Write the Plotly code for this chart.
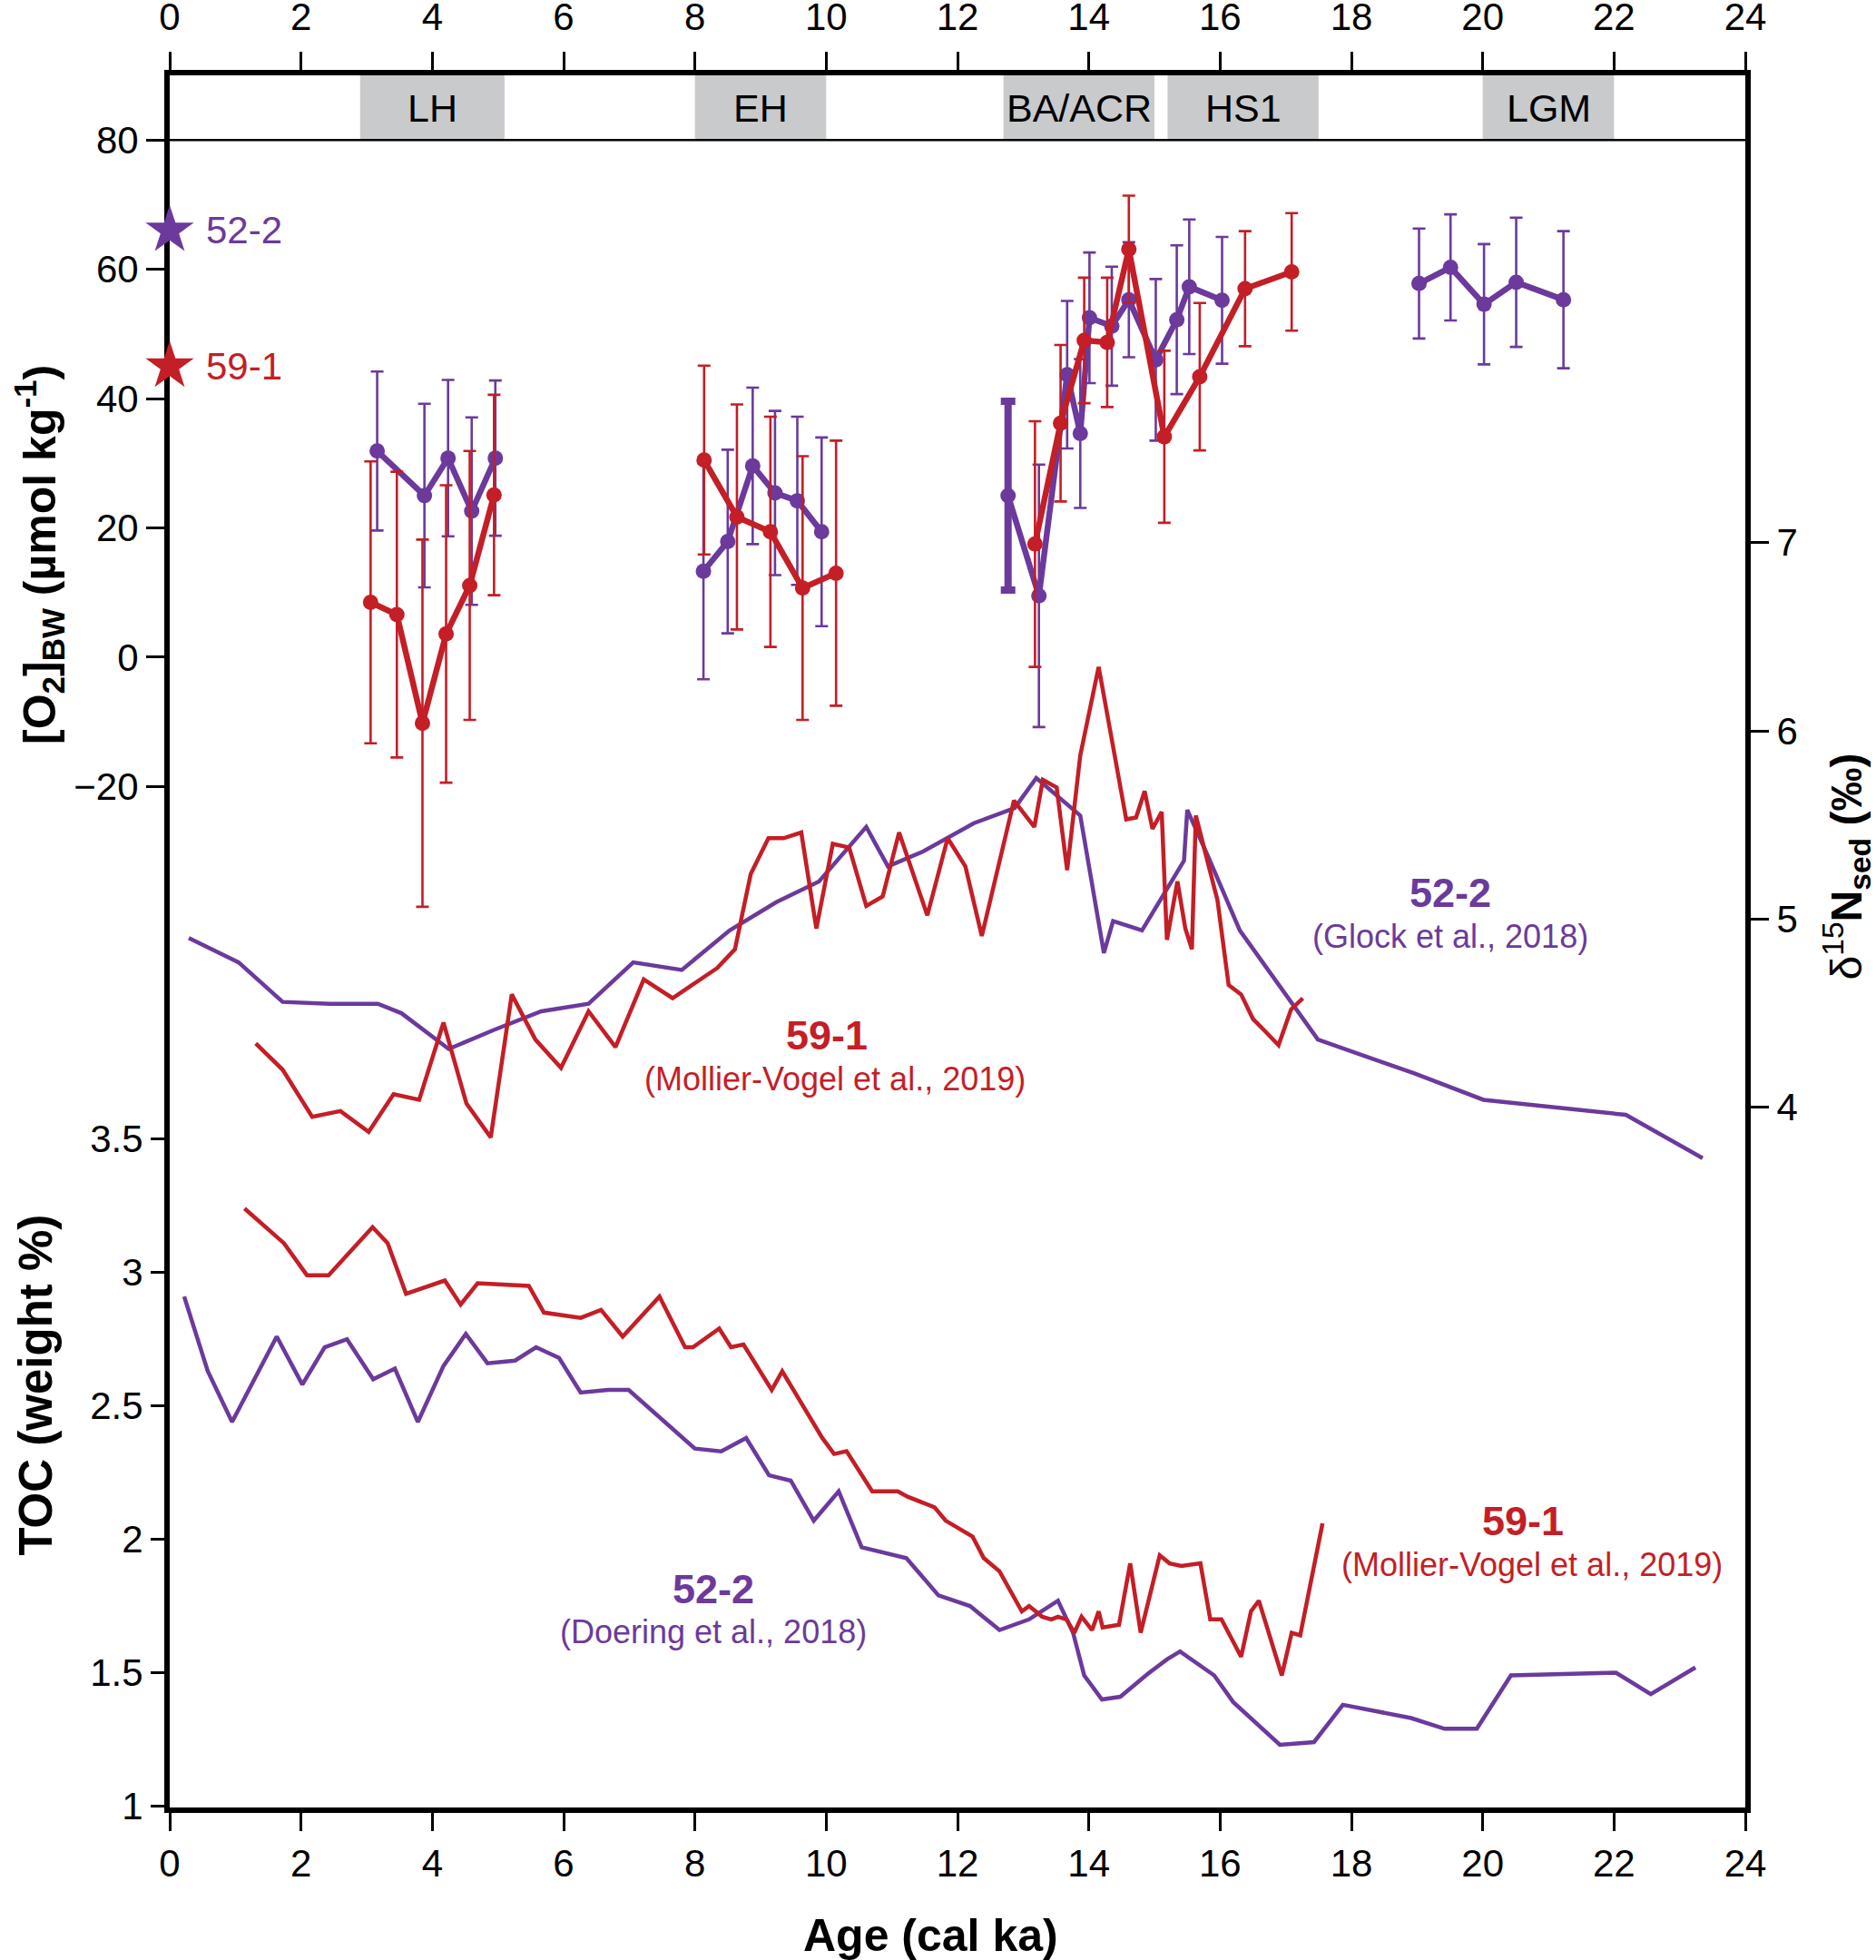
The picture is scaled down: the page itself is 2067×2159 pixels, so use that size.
import plotly.graph_objects as go

purple = "#6b3a9c"
red = "#c41e26"
band_gray = "#c9cacc"
font_family = "Liberation Sans, Arial, sans-serif"

# --- bottom-water O2 reconstructions (None breaks the line between intervals)
o2_522_age = [3.16, 3.88, 4.24, 4.60, 4.96, None,
              8.13, 8.50, 8.88, 9.22, 9.56, 9.93, None,
              12.77, 13.24, 13.67, 13.87, 14.01, 14.35, 14.61, 15.02, 15.34, 15.53, 16.03, None,
              19.03, 19.51, 20.02, 20.51, 21.23]
o2_522 = [31.9, 25.0, 30.8, 22.6, 30.8, None,
          13.3, 17.9, 29.6, 25.4, 24.2, 19.4, None,
          25.0, 9.5, 43.7, 34.6, 52.5, 51.2, 55.3, 46.0, 52.2, 57.3, 55.2, None,
          57.8, 60.3, 54.6, 58.0, 55.3]
o2_522_err = [12.3, 14.2, 12.1, 14.5, 12.0, None,
              16.7, 14.2, 12.1, 12.7, 13.0, 14.6, None,
              14.6, 20.3, 11.4, 11.5, 10.1, 9.2, 8.9, 12.5, 11.5, 10.4, 9.8, None,
              8.5, 8.2, 9.3, 10.0, 10.6]

o2_591_age = [3.06, 3.46, 3.85, 4.21, 4.57, 4.94, None,
              8.14, 8.64, 9.15, 9.64, 10.15, None,
              13.18, 13.57, 13.93, 14.28, 14.61, 15.15, 15.69, 16.38, 17.09]
o2_591 = [8.5, 6.6, -10.2, 3.6, 11.1, 25.1, None,
          30.5, 21.7, 19.4, 10.7, 13.0, None,
          17.5, 36.2, 49.0, 48.7, 63.1, 34.1, 43.4, 57.0, 59.6]
o2_591_err = [21.8, 22.1, 28.4, 23.0, 20.8, 15.5, None,
              14.6, 17.4, 17.8, 20.4, 20.5, None,
              19.0, 12.1, 9.7, 10.0, 8.3, 13.3, 11.4, 8.9, 9.1]

# modern bottom-water O2 at the core sites
modern_o2_522 = 66
modern_o2_591 = 45

# --- d15N sediment
d15n_522_age = [0.29, 1.05, 1.72, 2.44, 3.17, 3.53, 4.25, 4.93, 5.66, 6.38, 7.06, 7.80,
                8.53, 9.24, 9.89, 10.61, 10.94, 11.48, 12.25, 12.87, 13.20, 13.87, 14.23,
                14.37, 14.81, 15.45, 15.50, 15.82, 16.30, 17.49, 18.96, 20.01, 22.18, 23.35]
d15n_522 = [4.90, 4.77, 4.56, 4.55, 4.55, 4.50, 4.31, 4.41, 4.51, 4.55, 4.77, 4.73,
            4.94, 5.09, 5.20, 5.49, 5.28, 5.36, 5.51, 5.59, 5.75, 5.55, 4.82,
            4.99, 4.94, 5.31, 5.58, 5.33, 4.94, 4.36, 4.18, 4.04, 3.96, 3.73]

d15n_591_age = [1.31, 1.72, 2.17, 2.60, 3.03, 3.41, 3.80, 4.17, 4.52, 4.89, 5.21, 5.57,
                5.96, 6.38, 6.79, 7.22, 7.66, 8.07, 8.34, 8.61, 8.85, 9.12, 9.35, 9.62,
                9.85, 10.10, 10.35, 10.61, 10.86, 11.11, 11.54, 11.85, 12.12, 12.37, 12.86,
                13.17, 13.30, 13.51, 13.67, 13.87, 14.15, 14.57, 14.72, 14.85, 14.97, 15.11,
                15.19, 15.35, 15.47, 15.57, 15.63, 15.96, 16.13, 16.32, 16.50, 16.67, 16.89,
                17.08, 17.26]
d15n_591 = [4.34, 4.20, 3.95, 3.98, 3.87, 4.07, 4.04, 4.45, 4.02, 3.84, 4.60, 4.36,
            4.21, 4.51, 4.32, 4.68, 4.58, 4.68, 4.74, 4.84, 5.24, 5.43, 5.43, 5.46,
            4.95, 5.40, 5.38, 5.07, 5.12, 5.46, 5.02, 5.43, 5.28, 4.91, 5.63,
            5.49, 5.74, 5.70, 5.26, 5.87, 6.34, 5.53, 5.54, 5.68, 5.48, 5.57,
            4.89, 5.20, 4.95, 4.84, 5.55, 5.10, 4.65, 4.60, 4.47, 4.41, 4.33,
            4.52, 4.58]

# --- TOC
toc_522_age = [0.22, 0.58, 0.95, 1.63, 2.02, 2.36, 2.70, 3.10, 3.43, 3.78, 4.17, 4.51,
               4.84, 5.26, 5.58, 5.93, 6.26, 6.68, 6.99, 7.74, 8.00, 8.40, 8.78, 9.13,
               9.46, 9.81, 10.19, 10.54, 10.85, 11.22, 11.71, 12.19, 12.64, 13.09, 13.53,
               13.76, 13.93, 14.20, 14.48, 14.92, 15.19, 15.39, 15.91, 16.20, 16.91, 17.43,
               17.87, 18.91, 19.42, 19.91, 20.43, 22.03, 22.56, 23.24]
toc_522 = [2.91, 2.63, 2.44, 2.76, 2.58, 2.72, 2.75, 2.60, 2.64, 2.44, 2.65, 2.77,
           2.66, 2.67, 2.72, 2.68, 2.55, 2.56, 2.56, 2.40, 2.34, 2.33, 2.38, 2.24,
           2.22, 2.07, 2.18, 1.97, 1.95, 1.93, 1.79, 1.75, 1.66, 1.70, 1.77,
           1.65, 1.49, 1.40, 1.41, 1.50, 1.55, 1.58, 1.49, 1.39, 1.23, 1.24,
           1.38, 1.33, 1.29, 1.29, 1.49, 1.50, 1.42, 1.52]

toc_591_age = [1.14, 1.74, 2.09, 2.42, 3.09, 3.32, 3.60, 4.19, 4.43, 4.69, 5.47, 5.70,
               6.26, 6.57, 6.90, 7.46, 7.85, 7.97, 8.37, 8.55, 8.74, 9.17, 9.33, 9.55,
               9.94, 10.12, 10.31, 10.70, 11.09, 11.24, 11.65, 11.82, 12.23, 12.40, 12.64,
               12.98, 13.09, 13.29, 13.43, 13.53, 13.66, 13.78, 13.89, 14.05, 14.15, 14.21,
               14.46, 14.63, 14.79, 15.08, 15.23, 15.41, 15.70, 15.85, 16.02, 16.32, 16.47,
               16.59, 16.94, 17.09, 17.22, 17.56]
toc_591 = [3.24, 3.11, 2.99, 2.99, 3.17, 3.11, 2.92, 2.97, 2.88, 2.96, 2.95, 2.85,
           2.83, 2.86, 2.76, 2.91, 2.72, 2.72, 2.79, 2.72, 2.73, 2.56, 2.63, 2.54,
           2.38, 2.32, 2.33, 2.18, 2.18, 2.16, 2.12, 2.07, 2.01, 1.93, 1.88,
           1.73, 1.75, 1.71, 1.70, 1.71, 1.70, 1.65, 1.71, 1.66, 1.73, 1.67,
           1.68, 1.91, 1.65, 1.94, 1.91, 1.90, 1.91, 1.70, 1.70, 1.56, 1.73,
           1.77, 1.49, 1.65, 1.64, 2.06]

# climate intervals shown in the top band
period_names = ["LH", "EH", "BA/ACR", "HS1", "LGM"]
period_start = [2.9, 8.0, 12.7, 15.2, 20.0]
period_end = [5.1, 10.0, 15.0, 17.5, 22.0]

age_ticks = list(range(0, 25, 2))
o2_ticks = [-20, 0, 20, 40, 60, 80]
d15n_ticks = [4, 5, 6, 7]
toc_ticks = [1, 1.5, 2, 2.5, 3, 3.5]

O2_RANGE = [-177.9, 90.0]
D15N_RANGE = [0.28, 9.483]
TOC_RANGE = [0.995, 7.487]


def txt_font(size, color="black"):
    return dict(family=font_family, size=size, color=color)


fig = go.Figure()

# d15N curves
fig.add_trace(go.Scatter(x=d15n_522_age, y=d15n_522, yaxis="y2", mode="lines",
                         line=dict(color=purple, width=4.5)))
fig.add_trace(go.Scatter(x=d15n_591_age, y=d15n_591, yaxis="y2", mode="lines",
                         line=dict(color=red, width=4.5)))

# TOC curves
fig.add_trace(go.Scatter(x=toc_522_age, y=toc_522, yaxis="y3", mode="lines",
                         line=dict(color=purple, width=4.5)))
fig.add_trace(go.Scatter(x=toc_591_age, y=toc_591, yaxis="y3", mode="lines",
                         line=dict(color=red, width=4.5)))

# O2 reconstructions with error bars
fig.add_trace(go.Scatter(
    x=o2_522_age, y=o2_522, mode="lines+markers",
    line=dict(color=purple, width=6.5),
    marker=dict(size=17, color=purple),
    error_y=dict(type="data", array=o2_522_err, color=purple, thickness=2.6, width=7),
))
# the first deglacial 52-2 error bar is drawn heavier in the original
first_deg = [i for i, v in enumerate(o2_522_age) if v is None][1] + 1
fig.add_trace(go.Scatter(
    x=[o2_522_age[first_deg]], y=[o2_522[first_deg]], mode="markers",
    marker=dict(size=1, color=purple, opacity=0),
    error_y=dict(type="data", array=[o2_522_err[first_deg]], color=purple, thickness=8, width=8),
))
fig.add_trace(go.Scatter(
    x=o2_591_age, y=o2_591, mode="lines+markers",
    line=dict(color=red, width=6.5),
    marker=dict(size=17, color=red),
    error_y=dict(type="data", array=o2_591_err, color=red, thickness=2.6, width=7),
))

# modern values (stars on the axis)
fig.add_trace(go.Scatter(x=[0], y=[modern_o2_522], mode="markers", cliponaxis=False,
                         marker=dict(symbol="star", size=40, color=purple)))
fig.add_trace(go.Scatter(x=[0], y=[modern_o2_591], mode="markers", cliponaxis=False,
                         marker=dict(symbol="star", size=40, color=red)))

# dummy trace so the top axis gets drawn
fig.add_trace(go.Scatter(x=[0, 24], y=[None, None], xaxis="x2", mode="lines",
                         hoverinfo="skip"))

shapes = []
for s, e in zip(period_start, period_end):
    shapes.append(dict(type="rect", xref="x", yref="y", x0=s, x1=e, y0=80, y1=O2_RANGE[1],
                       fillcolor=band_gray, line=dict(width=0), layer="below"))
shapes.append(dict(type="line", xref="paper", yref="y", x0=0, x1=1, y0=80, y1=80,
                   line=dict(color="black", width=2.5)))

annotations = []


def note(x, y, xref, yref, text, size, color="black", **kw):
    d = dict(x=x, y=y, xref=xref, yref=yref, text=text, showarrow=False,
             xanchor="center", yanchor="middle", font=txt_font(size, color))
    d.update(kw)
    annotations.append(d)


for name, s, e in zip(period_names, period_start, period_end):
    note((s + e) / 2, 85, "x", "y", name, 43)

# labels beside the stars
note(0, modern_o2_522, "x", "y", "52-2", 42, purple, xanchor="left", xshift=38)
note(0, modern_o2_591, "x", "y", "59-1", 42, red, xanchor="left", xshift=38)

# series labels
note(19.51, 5.14, "x", "y2", "<b>52-2</b>", 45, purple)
note(19.51, 4.91, "x", "y2", "(Glock et al., 2018)", 36, purple)
note(10.01, 4.38, "x", "y2", "<b>59-1</b>", 45, red)
note(10.13, 4.15, "x", "y2", "(Mollier-Vogel et al., 2019)", 36, red)
note(8.28, 1.815, "x", "y3", "<b>52-2</b>", 45, purple)
note(8.28, 1.655, "x", "y3", "(Doering et al., 2018)", 36, purple)
note(20.61, 2.067, "x", "y3", "<b>59-1</b>", 45, red)
note(20.75, 1.904, "x", "y3", "(Mollier-Vogel et al., 2019)", 36, red)

# axis titles
note(-0.083, 15.85, "paper", "y",
     "<b>[O<sub>2</sub>]<sub>BW</sub> (µmol kg<sup>-1</sup>)</b>", 50, textangle=-90)
note(-0.085, 2.58, "paper", "y3", "<b>TOC (weight %)</b>", 51, textangle=-90)
note(1.064, 5.28, "paper", "y2", "δ<sup>15</sup><b>N<sub>sed</sub> (‰)</b>", 48,
     textangle=-90)
note(11.59, -0.074, "x", "paper", "<b>Age (cal ka)</b>", 50)

axis_common = dict(showgrid=False, zeroline=False, ticks="outside", ticklen=20, tickwidth=3,
                   tickcolor="black", linecolor="black", tickfont=txt_font(42),
                   automargin=False)

fig.update_layout(
    width=2067, height=2159,
    margin=dict(l=187, r=144, t=83, b=168, autoexpand=False),
    plot_bgcolor="white", paper_bgcolor="white",
    showlegend=False,
    font=txt_font(42),
    xaxis=dict(range=[0, 24], tickvals=age_ticks, showline=True, linewidth=6,
               ticklabelstandoff=0, **axis_common),
    xaxis2=dict(range=[0, 24], tickvals=age_ticks, overlaying="x", side="top", anchor="y",
                showline=True, linewidth=6, ticklabelstandoff=7, **axis_common),
    yaxis=dict(range=O2_RANGE, tickvals=o2_ticks, showline=True, linewidth=6,
               layer="below traces", **axis_common),
    yaxis2=dict(range=D15N_RANGE, tickvals=d15n_ticks, overlaying="y", side="right",
                anchor="x", showline=True, linewidth=6, **axis_common),
    yaxis3=dict(range=TOC_RANGE, tickvals=toc_ticks, ticktext=[str(t) for t in toc_ticks],
                overlaying="y", side="left", anchor="x", showline=False, **axis_common),
    shapes=shapes,
    annotations=annotations,
)

# drop the browser's default body margin so the figure fills the window exactly
fig.write_html("out.html", config={"displayModeBar": False},
               post_script="document.body.style.margin = '0';")
